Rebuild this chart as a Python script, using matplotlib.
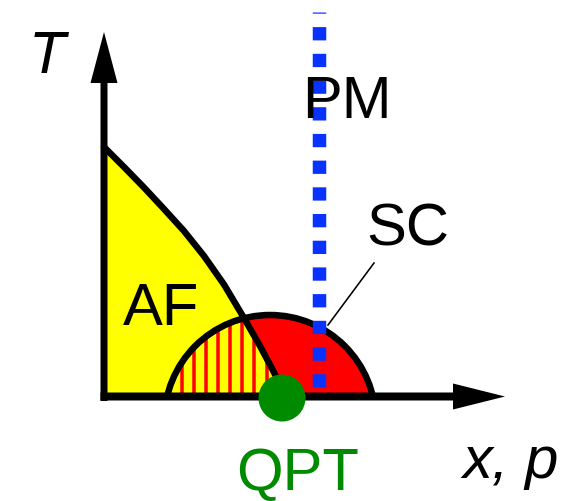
import numpy as np
import matplotlib
matplotlib.use("Agg")
import matplotlib.pyplot as plt
from matplotlib.patches import Polygon, Circle, Rectangle

#--- schematic phase diagram, everything laid out in pixel units ---#
W, H = 586, 501
PX = 0.72  # points per pixel at dpi 100

# AF boundary (x, y in px, y down)
af_x = [104, 124, 144, 164, 184, 204, 224, 244, 260, 272, 280, 286]
af_y = [147, 167, 187.5, 209, 231, 256, 284.5, 318, 346, 368.5, 384.5, 397]

# SC dome: circular cap above the x axis
dome_cx, dome_cy, dome_r = 270, 420.7, 105.7
axis_x0, axis_y0 = 104, 396.5
hatch_x = np.arange(181.5, 290, 12.15)

# PM line, SC leader, QPT point
pm_x, pm_top, pm_bot = 319, 12, 387
lead_x = [328, 374]
lead_y = [325, 263]
qpt_x, qpt_y, qpt_r = 282, 398, 23.5

labels = ["T", "PM", "AF", "SC", "QPT", "x, p"]
lab_x = [47, 346.5, 161, 407.5, 297.5, 511]
lab_y = [73, 117.5, 325, 245, 490, 478]
lab_style = ["italic", "normal", "normal", "normal", "normal", "italic"]
lab_col = ["black", "black", "black", "black", "#008a00", "black"]

yellow, red, blue, green = "#ffff00", "#ff0000", "#0a32ff", "#008a00"

fig = plt.figure(figsize=(W / 100, H / 100), dpi=100)
ax = fig.add_axes([0, 0, 1, 1])
ax.set_xlim(0, W)
ax.set_ylim(H, 0)
ax.axis("off")

af_pts = list(zip(af_x, af_y)) + [(axis_x0, axis_y0), (axis_x0, af_y[0])]
above = Rectangle((0, 0), W, axis_y0, transform=ax.transData)

# fills
ax.add_patch(Polygon(af_pts, closed=True, fc=yellow, ec="none", zorder=1))
dome = Circle((dome_cx, dome_cy), dome_r, fc=red, ec="none", zorder=2)
ax.add_patch(dome)
dome.set_clip_path(above)
overlap = Polygon(af_pts, closed=True, fc=yellow, ec="none", zorder=3)
ax.add_patch(overlap)
overlap.set_clip_path(dome)
hl = ax.vlines(hatch_x, 290, axis_y0, colors=red, lw=3.5 * PX, zorder=4)
hl.set_clip_path(dome)

# outlines
edge = Circle((dome_cx, dome_cy), dome_r, fc="none", ec="black", lw=6.5 * PX, zorder=5)
ax.add_patch(edge)
edge.set_clip_path(above)
ax.plot(af_x, af_y, color="black", lw=6.5 * PX, solid_joinstyle="round",
        solid_capstyle="round", zorder=5)

# PM line and SC leader
lw_pm = 13.5
ax.plot([pm_x, pm_x], [pm_bot, pm_top], color=blue, lw=lw_pm * PX,
        linestyle=(0, (13.3 / lw_pm, 13.4 / lw_pm)), dash_capstyle="butt", zorder=6)
ax.plot(lead_x, lead_y, color="black", lw=1.6 * PX, zorder=6)

# axes with arrow heads
ax.arrow(axis_x0, 401, 0, 32 - 401, width=7, head_width=27, head_length=51,
         length_includes_head=True, fc="black", ec="none", zorder=7)
ax.arrow(100.5, axis_y0, 505 - 100.5, 0, width=8, head_width=26, head_length=52,
         length_includes_head=True, fc="black", ec="none", zorder=7)

ax.add_patch(Circle((qpt_x, qpt_y), qpt_r, fc=green, ec="none", zorder=8))

for s, x, y, st, c in zip(labels, lab_x, lab_y, lab_style, lab_col):
    ax.text(x, y, s, fontsize=43, family="Liberation Sans", fontstyle=st, color=c,
            ha="center", va="baseline", zorder=9)

fig.savefig("out.png", dpi=100)
